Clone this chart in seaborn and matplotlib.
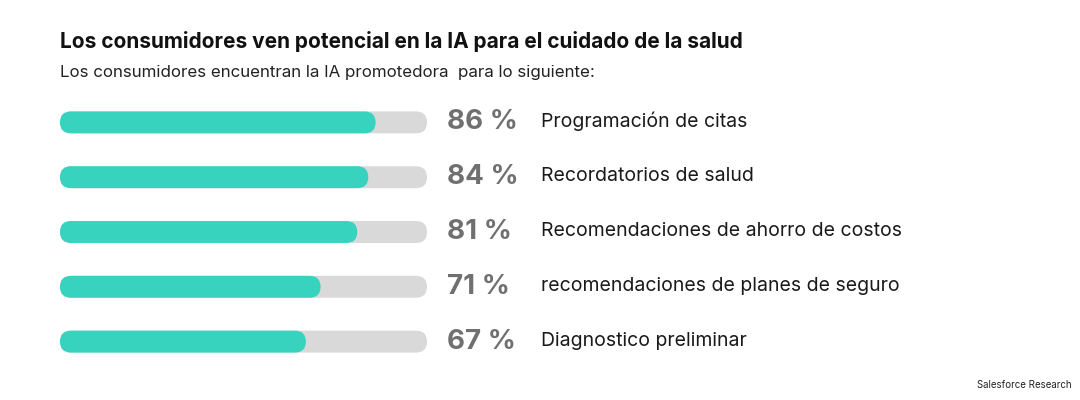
import matplotlib
matplotlib.use("Agg")
import matplotlib.pyplot as plt
import seaborn as sns
import pandas as pd
from matplotlib.patches import FancyBboxPatch

categories = [
    "Programación de citas",
    "Recordatorios de salud",
    "Recomendaciones de ahorro de costos",
    "recomendaciones de planes de seguro",
    "Diagnostico preliminar",
]
values = [86, 84, 81, 71, 67]
totals = [100, 100, 100, 100, 100]

title = "Los consumidores ven potencial en la IA para el cuidado de la salud"
subtitle = "Los consumidores encuentran la IA promotedora  para lo siguiente:"
source = "Salesforce Research"

TEAL = "#37d3be"
TRACK = "#d9d9d9"
PCT = "#707070"

sns.set_theme(style="white")
plt.rcParams["font.family"] = ["Inter", "DejaVu Sans"]

df = pd.DataFrame({"cat": categories, "value": values, "total": totals})

fig = plt.figure(figsize=(10.8, 4.0), dpi=100)
W, H = 1080, 400
# axes: x 60..427 px, y 95..369 px
ax = fig.add_axes([60 / W, 1 - 369 / H, 367 / W, 274 / H])

sns.barplot(data=df, x="total", y="cat", color=TRACK, width=0.4, ax=ax, saturation=1)
sns.barplot(data=df, x="value", y="cat", color=TEAL, width=0.4, ax=ax, saturation=1)
ax.set_xlim(0, 100)
ax.set_ylim(4.5, -0.5)

# swap the plain rectangles for rounded bars
px_x = 367 / 100
px_y = 274 / 5
patches = list(ax.patches)
for p in patches:
    x0, y0 = p.get_x(), p.get_y()
    w, h = p.get_width(), p.get_height()
    fc = p.get_facecolor()
    p.remove()
    r = (h * px_y / 2) / px_x
    ax.add_patch(FancyBboxPatch((x0, y0), w, h,
                                boxstyle=f"round,pad=0,rounding_size={r}",
                                mutation_aspect=px_x / px_y,
                                facecolor=fc, edgecolor="none", clip_on=False))

ax.axis("off")

for i, (cat, v) in enumerate(zip(categories, values)):
    ax.text(105.5, i, f"{v} %", fontsize=20, fontweight="bold", color=PCT,
            va="center", ha="left")
    ax.text(131, i - 0.02, cat, fontsize=14, color="#1a1a1a", va="center", ha="left")

fig.text(60 / W, 1 - 41 / H, title, fontsize=15, fontweight="bold", color="#111111",
         va="center", ha="left")
fig.text(60 / W, 1 - 72 / H, subtitle, fontsize=12.2, color="#222222",
         va="center", ha="left")
fig.text(977 / W, 1 - 385 / H, source, fontsize=7, color="#222222",
         va="center", ha="left")

fig.savefig("out.png", dpi=100, facecolor="white")
plt.close(fig)
